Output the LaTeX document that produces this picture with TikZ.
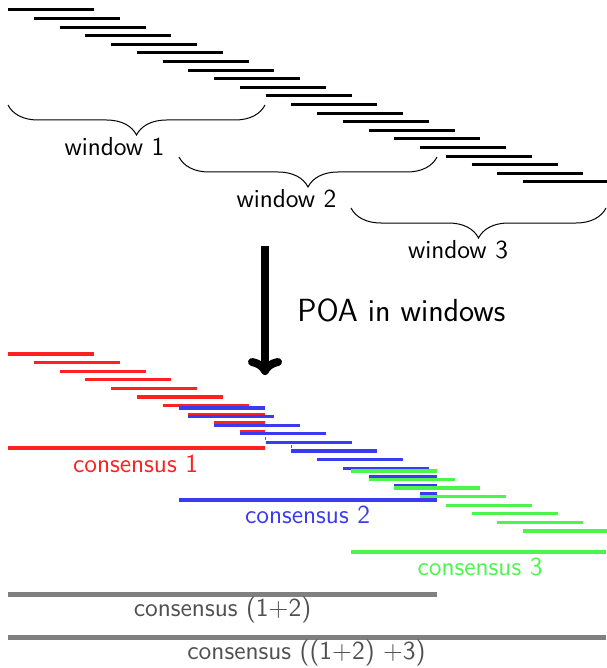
\documentclass[tikz,border=0pt]{standalone}
\usetikzlibrary{decorations.pathreplacing,arrows.meta}
\definecolor{rd}{RGB}{255,32,32}
\definecolor{bl}{RGB}{58,58,240}
\definecolor{gn}{RGB}{76,245,76}
\definecolor{gl}{RGB}{128,128,128}
\definecolor{gt}{RGB}{80,80,80}
\begin{document}
\begin{tikzpicture}[x=0.5pt,y=-0.5pt,
  readline/.style={line width=1.5pt},
  colread/.style={line width=1.6pt},
  consline/.style={line width=1.8pt},
  mergeline/.style={line width=2.5pt,gl},
  winbrace/.style={decorate,decoration={brace,amplitude=15pt,mirror},line width=0.5pt},
  lbl/.style={anchor=base,inner sep=0pt,font=\sffamily\fontsize{13}{15}\selectfont},
  biglbl/.style={anchor=base west,inner sep=0pt,font=\sffamily\fontsize{16}{19}\selectfont},
  poa/.style={line width=4pt,-{Computer Modern Rightarrow[length=8.5pt,width=17pt]}}
]
\useasboundingbox (0,0) rectangle (606,668);

% reads (top)
\foreach \i in {0,...,20}
  \draw[readline] ({8+25.75*\i},{10+8.6*\i}) -- ++(86,0);

% braces
\coordinate (b1s) at (8,105);   \coordinate (b1e) at (265,105);
\coordinate (b2s) at (179,157); \coordinate (b2e) at (437,157);
\coordinate (b3s) at (351,208); \coordinate (b3e) at (606,208);
\draw[winbrace] (b1s) -- (b1e);
\draw[winbrace] (b2s) -- (b2e);
\draw[winbrace] (b3s) -- (b3e);
\node[lbl] (w1) at (114.5,156) {window 1};
\node[lbl] (w2) at (286.5,207) {window 2};
\node[lbl] (w3) at (458,258) {window 3};

% arrow
\coordinate (at) at (265,246);
\coordinate (ab) at (265,375);
\draw[poa] (at) -- (ab);
\node[biglbl] (poalbl) at (297,321) {POA in windows};

% red (window 1)
\foreach \i in {0,...,6}
  \draw[colread,rd] ({8+25.75*\i},{354+8.6*\i}) -- ++(86,0);
\foreach \i in {7,8,9}
  \draw[colread,rd] ({8+25.75*\i},{354+8.6*\i}) -- (265,{354+8.6*\i});
\draw[rd,line width=0.5pt] (265,437) -- (265,440);
\draw[rd,line width=0.5pt] (291,445) -- (291,448);

% blue (window 2)
\draw[colread,bl] (179,408) -- (265,408);
\foreach \i in {7,...,13}
  \draw[colread,bl] ({8+25.75*\i},{356.3+8.6*\i}) -- ++(86,0);
\foreach \i in {14,15,16}
  \draw[colread,bl] ({8+25.75*\i},{356.3+8.6*\i}) -- (437,{356.3+8.6*\i});

% green (window 3)
\draw[colread,gn] (351,471) -- (437,471);
\foreach \i in {14,...,20}
  \draw[colread,gn] ({8+25.75*\i},{359+8.6*\i}) -- ++(86,0);

% consensus lines
\draw[consline,rd] (8,448) -- (265,448);
\draw[consline,bl] (179,500) -- (437,500);
\draw[consline,gn] (351,552) -- (606,552);
\node[lbl,text=rd] (c1) at (135.5,472) {consensus 1};
\node[lbl,text=bl] (c2) at (307.5,523) {consensus 2};
\node[lbl,text=gn] (c3) at (480,575) {consensus 3};

% merged
\draw[mergeline] (8,594) -- (437,594);
\draw[mergeline] (8,637) -- (606,637);
\node[lbl,text=gt] (c12) at (222.5,616) {consensus (1+2)};
\node[lbl,text=gt] (c123) at (306.5,659) {consensus ((1+2) +3)};
\end{tikzpicture}
\end{document}
